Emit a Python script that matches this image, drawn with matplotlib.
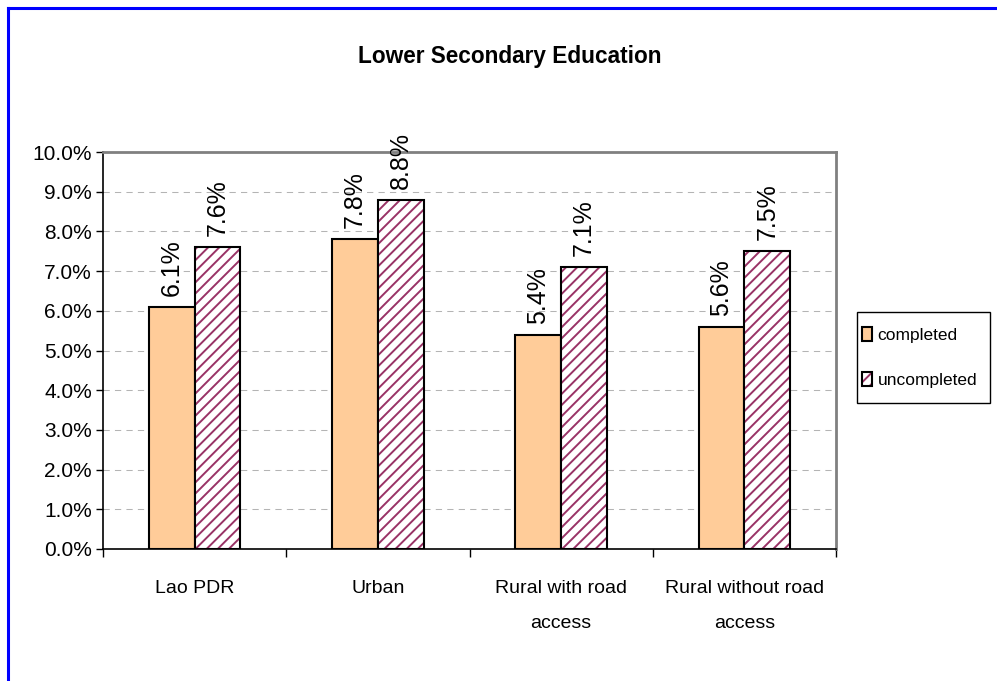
"""Lower secondary education: completed vs uncompleted, by area."""

import matplotlib

matplotlib.use("Agg")
import matplotlib.pyplot as plt
from matplotlib.legend_handler import HandlerTuple
from matplotlib.lines import Line2D
from matplotlib.patches import Patch, Rectangle
from matplotlib.ticker import FixedLocator, FuncFormatter

categories = ["Lao PDR", "Urban", "Rural with road\naccess", "Rural without road\naccess"]
completed = [6.1, 7.8, 5.4, 5.6]
uncompleted = [7.6, 8.8, 7.1, 7.5]
series_names = ["completed", "uncompleted"]
y_ticks = [0, 1, 2, 3, 4, 5, 6, 7, 8, 9, 10]

ORANGE = "#FFCC99"
MAROON = "#993366"
FRAME_BLUE = "#0000FF"


def main() -> None:
    plt.rcParams["font.family"] = ["Liberation Sans", "DejaVu Sans"]
    plt.rcParams["hatch.linewidth"] = 1.4

    fig = plt.figure(figsize=(9.97, 6.81), dpi=100)
    ax = fig.add_axes([103 / 997, 132 / 681, 733 / 997, 397 / 681])

    x = list(range(len(categories)))
    width = 0.25
    left = [i - width / 2 for i in x]
    right = [i + width / 2 for i in x]

    ax.bar(left, completed, width, color=ORANGE, edgecolor="black", linewidth=1.5, zorder=3)
    # hatch first (its colour follows the edge colour), then a black outline on top
    ax.bar(right, uncompleted, width, color="white", edgecolor=MAROON, hatch="///",
           linewidth=0, zorder=3)
    ax.bar(right, uncompleted, width, fill=False, edgecolor="black", linewidth=1.5, zorder=4)

    for xs, values in ((left, completed), (right, uncompleted)):
        for xi, v in zip(xs, values):
            ax.annotate(f"{v:.1f}%", (xi, v), xytext=(0, 8), textcoords="offset points",
                        rotation=90, ha="center", va="bottom", fontsize=18, zorder=5)

    ax.set_xlim(-0.5, len(categories) - 0.5)
    ax.set_ylim(0, 10)
    ax.yaxis.set_major_locator(FixedLocator(y_ticks))
    ax.yaxis.set_major_formatter(FuncFormatter(lambda v, _: f"{v:.1f}%"))
    ax.tick_params(axis="y", direction="out", length=5, width=1, pad=3, labelsize=15)

    ax.set_xticks(x)
    ax.set_xticklabels(categories, fontsize=14, linespacing=2.45)
    ax.set_xticks([i - 0.5 for i in range(len(categories) + 1)], minor=True)
    ax.tick_params(axis="x", which="major", length=0, pad=22)
    ax.tick_params(axis="x", which="minor", direction="out", length=6, width=1)

    ax.grid(axis="y", color="#b4b4b4", linestyle=(0, (6, 5)), linewidth=0.75, zorder=0)
    for side in ("left", "bottom"):
        ax.spines[side].set_color("black")
        ax.spines[side].set_linewidth(1.2)
    for side in ("top", "right"):
        ax.spines[side].set_color("#808080")
        ax.spines[side].set_linewidth(2)

    # legend entries without a frame; the box around them is drawn separately
    handles = [
        Patch(facecolor=ORANGE, edgecolor="black", linewidth=1.5),
        (Patch(facecolor="white", edgecolor=MAROON, hatch="///", linewidth=0),
         Patch(fill=False, edgecolor="black", linewidth=1.5)),
    ]
    fig.legend(handles, series_names, loc="center left",
               bbox_to_anchor=(862 / 997, 1 - 357.5 / 681),
               handler_map={tuple: HandlerTuple(ndivide=1, pad=0)},
               prop={"size": 12.5},
               handlelength=0.6, handleheight=0.85, handletextpad=0.3,
               labelspacing=1.67, borderpad=0, borderaxespad=0, frameon=False)
    fig.add_artist(Rectangle((857 / 997, 1 - 403 / 681), 133 / 997, 91 / 681,
                             transform=fig.transFigure, fill=False, edgecolor="black",
                             linewidth=1))

    fig.text(510 / 997, 1 - 57 / 681, "Lower Secondary Education", ha="center", va="center",
             fontweight="bold", fontsize=16.3)

    # blue outer frame, only the top and left edges fall inside the image
    fig.add_artist(Line2D([7.5 / 997, 7.5 / 997], [0, 1 - 7.5 / 681], transform=fig.transFigure,
                          color=FRAME_BLUE, linewidth=2.2))
    fig.add_artist(Line2D([7.5 / 997, 1], [1 - 7.5 / 681, 1 - 7.5 / 681],
                          transform=fig.transFigure, color=FRAME_BLUE, linewidth=2.2))

    fig.savefig("out.png", dpi=100)


if __name__ == "__main__":
    main()
